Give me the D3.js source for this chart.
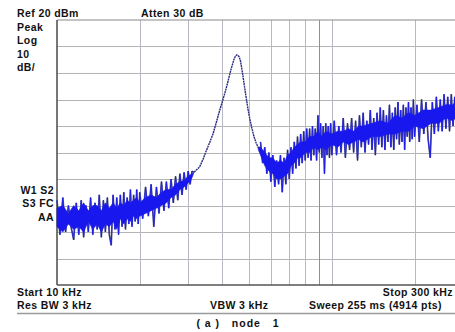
<!DOCTYPE html>
<html>
<head>
<meta charset="utf-8">
<script src="https://cdn.jsdelivr.net/npm/d3@7"></script>
<style>
  body { margin: 0; background: #fff; }
  text { font-family: "Liberation Sans", Arial, sans-serif; font-weight: bold; font-size: 10.5px; fill: #111; }
</style>
</head>
<body>
<svg id="chart" width="455" height="332"></svg>
<script>
// vertical grid (kHz) and horizontal grid (dBm)
const gridFreqs = [20, 30, 40, 50, 60, 70, 80, 90, 100, 200];
const gridLevels = [10, 0, -10, -20, -30, -40, -50, -60, -70];

// trace, [kHz, dBm]
const lowBand = [
    [10, -48], [10.25, -61], [10.5, -47], [10.75, -60], [11, -50], [11.25, -58], [11.5, -63],
    [11.75, -49], [12, -61], [12.25, -48], [12.5, -62], [12.75, -50], [13, -60], [13.25, -47],
    [13.5, -61], [13.75, -49], [14, -59], [14.25, -46], [14.5, -62], [14.75, -48], [15, -60],
    [15.25, -47], [15.5, -61], [15.75, -65], [16, -46], [16.25, -59], [16.5, -47], [16.75, -61],
    [17, -46], [17.25, -58], [17.5, -45], [17.75, -59], [18, -47], [18.25, -57], [18.5, -44],
    [18.75, -58], [19, -46], [19.25, -56], [19.5, -44], [19.75, -57], [20, -45]
];
const riseBand = [
    [20.5, -55], [21, -43], [21.5, -54], [22, -42], [22.5, -58], [23, -43], [23.5, -53],
    [24, -41], [24.5, -52], [25, -41], [25.5, -51], [26, -40], [26.5, -49], [27, -39],
    [27.5, -48], [28, -38], [28.5, -46], [29, -37.5], [29.5, -44], [30, -37], [30.5, -42], [31, -37]
];
const resonance = [
    [31, -37], [31.5, -37.5], [32, -36.8], [33, -35.5], [34, -32.5], [35, -29.1], [36, -26],
    [37, -22.8], [38, -18.6], [39, -14.4], [40, -10.6], [41, -6.8], [42, -2.7], [43, 1.5],
    [44, 5], [44.5, 6.2], [45, 6.8], [45.5, 6.7], [46, 6.1], [46.5, 4.6], [47, 1.8],
    [47.5, -1.3], [48, -4.5], [48.5, -7.6], [49, -10.6], [49.5, -13.4], [50, -16], [51, -20.3],
    [52, -23.8], [53, -26.3], [54, -28.2], [55, -28]
];
const dipBand = [
    [55, -26], [56, -34], [57, -28], [58, -38], [59, -30], [60, -41], [61, -31], [62, -43],
    [63, -33], [64, -42], [65, -31], [66, -45], [67, -32], [68, -42], [69, -29], [70, -40],
    [71, -28], [72, -38], [73, -26], [74, -36], [75, -24], [76, -35], [77, -23], [78, -34],
    [79, -22], [80, -33], [81, -21], [82, -32], [83, -21], [84, -33], [85, -20], [86, -31],
    [87, -21], [88, -33], [89, -16], [90, -30], [91, -19], [92, -32], [93, -20], [94, -38],
    [95, -19], [96, -31], [97, -20], [98, -32], [99, -19], [100, -31]
];
const highBand = [
    [102, -18], [104, -31], [106, -20], [108, -30], [110, -17], [112, -32], [114, -19],
    [116, -29], [118, -17], [120, -30], [122, -18], [124, -33], [126, -16], [128, -28],
    [130, -15], [132, -30], [134, -18], [136, -27], [138, -14], [140, -29], [142, -17],
    [144, -31], [146, -15], [148, -27], [150, -13], [152, -28], [154, -14], [156, -29],
    [158, -16], [160, -26], [162, -12], [164, -28], [166, -15], [168, -29], [170, -13],
    [172, -25], [174, -11], [176, -27], [178, -14], [180, -26], [182, -12], [184, -29],
    [186, -13], [188, -24], [190, -11], [192, -26], [194, -13], [196, -25], [198, -10],
    [200, -24], [204, -12], [208, -26], [212, -10], [216, -23], [220, -11], [224, -25],
    [228, -32], [232, -11], [236, -23], [240, -9], [244, -22], [248, -10], [252, -22],
    [256, -8], [260, -21], [264, -9], [268, -22], [272, -8], [276, -20], [280, -9],
    [284, -21], [288, -7], [292, -19], [296, -8], [300, -18]
];

// dense core of the noise, [kHz, upper dBm, lower dBm]
const lowEnvelope = [
    [10, -51, -58], [10.5, -50, -60], [11, -53, -57], [11.5, -50, -59], [12, -52, -58],
    [12.5, -49, -60], [13, -52, -56], [13.5, -50, -59], [14, -50, -57], [14.5, -52, -60],
    [15, -49, -57], [15.5, -51, -58], [16, -49, -56], [16.5, -51, -59], [17, -49, -55],
    [17.5, -50, -57], [18, -48, -55], [18.5, -49, -56], [19, -48, -54], [19.5, -47, -55],
    [20, -49, -54], [21, -47, -53], [22, -46, -52], [23, -47, -51], [24, -45, -50],
    [25, -44, -49], [26, -44, -47], [27, -42, -46], [28, -41, -44], [29, -40.5, -43],
    [30, -39, -41.5], [31, -38, -39.5], [31.5, -37.5, -37.5]
];
const highEnvelope = [
    [54, -28, -29], [55, -28, -31], [57, -30, -35], [59, -32, -37], [61, -32, -38],
    [63, -34, -40], [65, -33, -40], [67, -34, -39], [69, -31, -38], [71, -30, -35],
    [73, -28, -34], [75, -27, -32], [77, -26, -32], [80, -26, -30], [83, -24, -30],
    [86, -24, -28], [89, -22, -29], [92, -24, -28], [95, -22, -29], [100, -23, -27],
    [105, -22, -28], [110, -22, -26], [115, -21, -27], [120, -22, -26], [125, -20, -25],
    [130, -20, -26], [140, -19, -24], [150, -18, -24], [160, -19, -23], [170, -16, -23],
    [180, -17, -22], [190, -15, -22], [200, -16, -20], [215, -14, -21], [230, -14, -19],
    [245, -13, -19], [260, -12, -17], [275, -12, -18], [290, -10, -16], [300, -11, -17]
];

const svg = d3.select("#chart");
const plotLeft = 57, plotTop = 20, plotRight = 463, plotBottom = 285;

const x = d3.scaleLog().domain([10, 300]).range([plotLeft, plotRight]);
const y = d3.scaleLinear().domain([-80, 20]).range([plotBottom, plotTop]);

// grid
svg.append("g")
    .selectAll("line")
    .data(gridLevels)
    .join("line")
    .attr("x1", plotLeft).attr("x2", 455)
    .attr("y1", d => Math.round(y(d)) + 0.5).attr("y2", d => Math.round(y(d)) + 0.5)
    .attr("stroke", "#b4b4b4");

svg.append("g")
    .selectAll("line")
    .data(gridFreqs)
    .join("line")
    .attr("x1", d => Math.round(x(d)) + 0.5).attr("x2", d => Math.round(x(d)) + 0.5)
    .attr("y1", plotTop).attr("y2", plotBottom)
    .attr("stroke", d => d === 90 ? "#8c8cb0" : "#b8b8c4");

// frame
svg.append("line").attr("x1", plotLeft).attr("x2", 455).attr("y1", plotTop).attr("y2", plotTop)
    .attr("stroke", "#8a8a8a").attr("stroke-width", 1.2);
svg.append("line").attr("x1", plotLeft).attr("x2", plotLeft).attr("y1", plotTop).attr("y2", plotBottom)
    .attr("stroke", "#555").attr("stroke-width", 1.6);
svg.append("line").attr("x1", plotLeft).attr("x2", 455).attr("y1", plotBottom).attr("y2", plotBottom)
    .attr("stroke", "#555").attr("stroke-width", 1.6);

// trace: grey-edged spikes, blue dense core, dark resonance curve
const line = d3.line().x(d => x(d[0])).y(d => y(d[1]));
const band = d3.area().x(d => x(d[0])).y0(d => y(d[2])).y1(d => y(d[1]));
const noisy = [lowBand.concat(riseBand), dipBand.concat(highBand)];

noisy.forEach(seg => {
    svg.append("path").datum(seg).attr("d", line)
        .attr("fill", "none").attr("stroke", "#64647a").attr("stroke-width", 1.7);
});
noisy.forEach(seg => {
    svg.append("path").datum(seg).attr("d", line)
        .attr("fill", "none").attr("stroke", "#1a1af0").attr("stroke-width", 0.9);
});
[lowEnvelope, highEnvelope].forEach(env => {
    svg.append("path").datum(env).attr("d", band)
        .attr("fill", "#1818ee").attr("stroke", "#1818ee").attr("stroke-width", 0.6);
});
svg.append("path").datum(resonance).attr("d", line)
    .attr("fill", "none").attr("stroke", "#2a2a80").attr("stroke-width", 1.4)
    .attr("stroke-dasharray", "2,0.6");

// annotations
const label = (t, px, py, anchor = "start") =>
    svg.append("text").attr("x", px).attr("y", py).attr("text-anchor", anchor)
        .attr("letter-spacing", "0.4px").text(t);

label("Ref 20 dBm", 17, 17);
label("Atten 30 dB", 141, 17);
label("Peak", 17, 30.5);
label("Log", 17, 44);
label("10", 17, 57.5);
label("dB/", 17, 71);
label("W1  S2", 54, 193.5, "end");
label("S3  FC", 54, 207, "end");
label("AA", 54, 220.5, "end");
label("Start 10 kHz", 17, 295.5);
label("Stop 300 kHz", 453, 295.5, "end");
label("Res BW 3 kHz", 17, 309);
label("VBW 3 kHz", 210, 309);
label("Sweep 255 ms (4914 pts)", 309, 309);

svg.append("line").attr("x1", 17).attr("x2", 455).attr("y1", 313.5).attr("y2", 313.5)
    .attr("stroke", "#9a9a9a").attr("stroke-width", 1.5);

svg.append("text").attr("x", 238).attr("y", 327).attr("text-anchor", "middle")
    .attr("letter-spacing", "1px").style("white-space", "pre")
    .text("( a )   node   1");
</script>
</body>
</html>
